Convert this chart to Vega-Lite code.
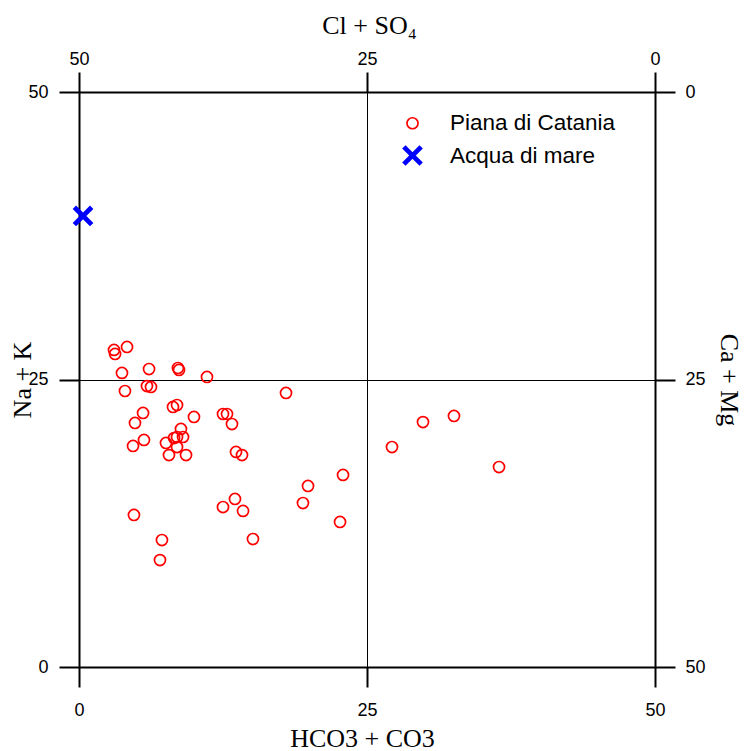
{
  "$schema": "https://vega.github.io/schema/vega-lite/v6.json",
  "autosize": {"type": "none"},
  "padding": {"left": 79, "top": 92, "right": 89, "bottom": 84},
  "width": 576,
  "height": 575,
  "background": "white",
  "config": {
    "view": {"stroke": null},
    "axis": {
      "labelFont": "Liberation Sans",
      "labelFontSize": 18,
      "labelColor": "black",
      "titleFont": "Liberation Serif",
      "titleFontSize": 26,
      "titleFontWeight": "normal",
      "titleColor": "black",
      "domainColor": "black",
      "domainWidth": 2,
      "tickColor": "black",
      "tickWidth": 2,
      "tickSize": 20,
      "labelFlush": false,
      "labelOverlap": false
    }
  },
  "data": {
    "values": [
      {"hco3": 3.04, "nak": 27.57, "group": "Piana di Catania"},
      {"hco3": 3.13, "nak": 27.22, "group": "Piana di Catania"},
      {"hco3": 4.17, "nak": 27.83, "group": "Piana di Catania"},
      {"hco3": 3.73, "nak": 25.57, "group": "Piana di Catania"},
      {"hco3": 6.08, "nak": 25.91, "group": "Piana di Catania"},
      {"hco3": 8.59, "nak": 26.0, "group": "Piana di Catania"},
      {"hco3": 8.68, "nak": 25.83, "group": "Piana di Catania"},
      {"hco3": 11.11, "nak": 25.22, "group": "Piana di Catania"},
      {"hco3": 3.99, "nak": 24.0, "group": "Piana di Catania"},
      {"hco3": 5.9, "nak": 24.43, "group": "Piana di Catania"},
      {"hco3": 6.25, "nak": 24.35, "group": "Piana di Catania"},
      {"hco3": 8.16, "nak": 22.61, "group": "Piana di Catania"},
      {"hco3": 8.51, "nak": 22.78, "group": "Piana di Catania"},
      {"hco3": 5.56, "nak": 22.09, "group": "Piana di Catania"},
      {"hco3": 4.86, "nak": 21.22, "group": "Piana di Catania"},
      {"hco3": 9.98, "nak": 21.74, "group": "Piana di Catania"},
      {"hco3": 12.5, "nak": 22.0, "group": "Piana di Catania"},
      {"hco3": 12.85, "nak": 22.0, "group": "Piana di Catania"},
      {"hco3": 13.28, "nak": 21.13, "group": "Piana di Catania"},
      {"hco3": 8.85, "nak": 20.7, "group": "Piana di Catania"},
      {"hco3": 8.25, "nak": 19.91, "group": "Piana di Catania"},
      {"hco3": 8.51, "nak": 20.0, "group": "Piana di Catania"},
      {"hco3": 9.03, "nak": 20.0, "group": "Piana di Catania"},
      {"hco3": 5.64, "nak": 19.74, "group": "Piana di Catania"},
      {"hco3": 4.69, "nak": 19.22, "group": "Piana di Catania"},
      {"hco3": 7.55, "nak": 19.48, "group": "Piana di Catania"},
      {"hco3": 8.51, "nak": 19.13, "group": "Piana di Catania"},
      {"hco3": 7.81, "nak": 18.43, "group": "Piana di Catania"},
      {"hco3": 9.29, "nak": 18.43, "group": "Piana di Catania"},
      {"hco3": 13.63, "nak": 18.7, "group": "Piana di Catania"},
      {"hco3": 14.15, "nak": 18.43, "group": "Piana di Catania"},
      {"hco3": 4.77, "nak": 13.22, "group": "Piana di Catania"},
      {"hco3": 7.2, "nak": 11.04, "group": "Piana di Catania"},
      {"hco3": 7.03, "nak": 9.3, "group": "Piana di Catania"},
      {"hco3": 12.5, "nak": 13.91, "group": "Piana di Catania"},
      {"hco3": 13.54, "nak": 14.61, "group": "Piana di Catania"},
      {"hco3": 14.24, "nak": 13.57, "group": "Piana di Catania"},
      {"hco3": 15.1, "nak": 11.13, "group": "Piana di Catania"},
      {"hco3": 17.97, "nak": 23.83, "group": "Piana di Catania"},
      {"hco3": 27.17, "nak": 19.13, "group": "Piana di Catania"},
      {"hco3": 29.86, "nak": 21.3, "group": "Piana di Catania"},
      {"hco3": 32.55, "nak": 21.83, "group": "Piana di Catania"},
      {"hco3": 36.46, "nak": 17.39, "group": "Piana di Catania"},
      {"hco3": 22.92, "nak": 16.7, "group": "Piana di Catania"},
      {"hco3": 19.88, "nak": 15.74, "group": "Piana di Catania"},
      {"hco3": 19.44, "nak": 14.26, "group": "Piana di Catania"},
      {"hco3": 22.66, "nak": 12.61, "group": "Piana di Catania"},
      {"hco3": 0.35, "nak": 39.22, "group": "Acqua di mare"}
    ]
  },
  "layer": [
    {
      "mark": {"type": "point", "filled": false, "opacity": 1},
      "encoding": {
        "x": {
          "field": "hco3", "type": "quantitative",
          "scale": {"domain": [0, 50], "nice": false, "zero": false},
          "axis": {
            "orient": "bottom", "title": "HCO3 + CO3",
            "values": [0, 25, 50],
            "labelPadding": 14,
            "grid": true, "gridColor": "black", "gridWidth": 1, "gridOpacity": 1,
            "titleX": 283, "titleY": 79, "titleBaseline": "alphabetic", "titleAlign": "center"
          }
        },
        "y": {
          "field": "nak", "type": "quantitative",
          "scale": {"domain": [0, 50], "nice": false, "zero": false},
          "axis": {
            "orient": "left", "title": "Na + K",
            "values": [0, 25, 50],
            "labelPadding": 11,
            "grid": true, "gridColor": "black", "gridWidth": 1, "gridOpacity": 1,
            "titleX": -57, "titleY": 287.5, "titleBaseline": "middle", "titleAlign": "center", "titleAngle": -90
          }
        },
        "color": {
          "field": "group", "type": "nominal",
          "scale": {"domain": ["Piana di Catania", "Acqua di mare"], "range": ["#ff0000", "#0000ff"]},
          "legend": {
            "title": null,
            "orient": "none",
            "legendX": 322,
            "legendY": 20,
            "labelFont": "Liberation Sans",
            "labelFontSize": 22.5,
            "labelColor": "black",
            "labelLimit": 400,
            "labelOffset": 26,
            "rowPadding": 2,
            "symbolType": "circle",
            "encode": {
              "symbols": {
                "update": {
                  "size": {"signal": "datum.value === 'Acqua di mare' ? 320 : 50"},
                  "strokeWidth": {"signal": "datum.value === 'Acqua di mare' ? 4.5 : 1.6"}
                }
              }
            }
          }
        },
        "shape": {
          "field": "group", "type": "nominal",
          "scale": {"domain": ["Piana di Catania", "Acqua di mare"], "range": ["circle", "M-1,-1L1,1M-1,1L1,-1"]}
        },
        "size": {
          "field": "group", "type": "nominal",
          "scale": {"domain": ["Piana di Catania", "Acqua di mare"], "range": [122, 300]},
          "legend": null
        },
        "strokeWidth": {
          "field": "group", "type": "nominal",
          "scale": {"domain": ["Piana di Catania", "Acqua di mare"], "range": [1.7, 4.8]},
          "legend": null
        }
      }
    },
    {
      "mark": {"type": "point", "opacity": 0},
      "encoding": {
        "x": {
          "field": "hco3", "type": "quantitative",
          "scale": {"domain": [0, 50], "nice": false, "zero": false},
          "axis": {
            "orient": "top", "title": "Cl + SO₄",
            "values": [0, 25, 50],
            "labelPadding": 4,
            "labelExpr": "format(50 - datum.value, 'd')",
            "grid": false,
            "titleX": 290, "titleY": -59, "titleBaseline": "alphabetic", "titleAlign": "center"
          }
        },
        "y": {
          "field": "nak", "type": "quantitative",
          "scale": {"domain": [0, 50], "nice": false, "zero": false},
          "axis": {
            "orient": "right", "title": "Ca + Mg",
            "values": [0, 25, 50],
            "labelPadding": 10,
            "labelExpr": "format(50 - datum.value, 'd')",
            "grid": false,
            "titleX": 73, "titleY": 287.5, "titleBaseline": "middle", "titleAlign": "center", "titleAngle": 90
          }
        }
      }
    }
  ],
  "resolve": {"scale": {"x": "independent", "y": "independent"}}
}
